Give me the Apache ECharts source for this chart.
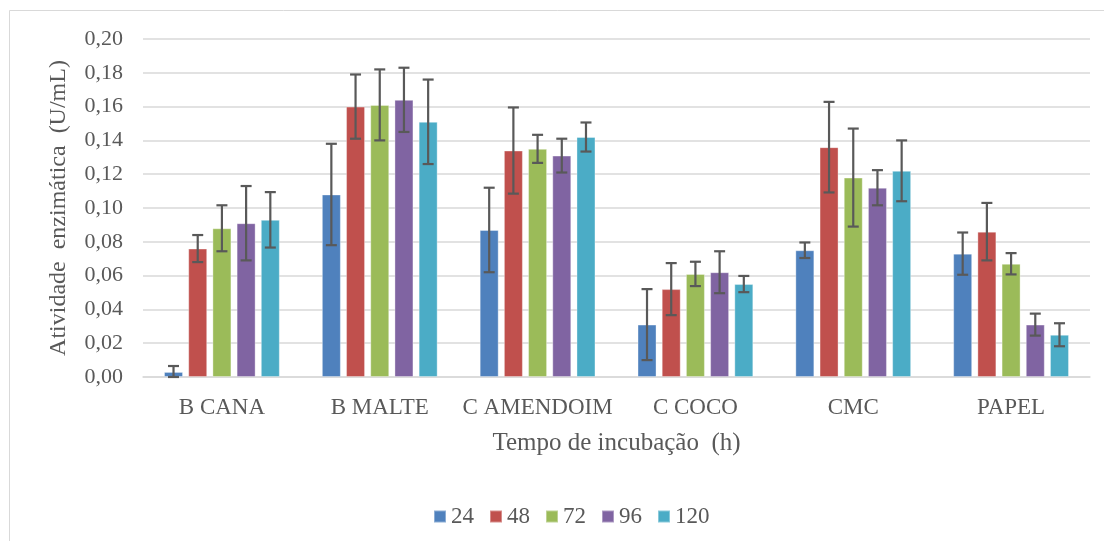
<!DOCTYPE html>
<html><head><meta charset="utf-8">
<script src="https://cdn.jsdelivr.net/npm/echarts@6/dist/echarts.min.js"></script>
<style>html,body{margin:0;padding:0;background:#fff}#c{width:1104px;height:541px}</style>
</head><body><div id="c"></div>
<script>
const categories = ['B CANA','B MALTE','C AMENDOIM','C COCO','CMC','PAPEL'];
const seriesNames = ['24','48','72','96','120'];
const v24  = [0.003, 0.108, 0.087, 0.031, 0.075, 0.073];
const v48  = [0.076, 0.160, 0.134, 0.052, 0.136, 0.086];
const v72  = [0.088, 0.161, 0.135, 0.061, 0.118, 0.067];
const v96  = [0.091, 0.164, 0.131, 0.062, 0.112, 0.031];
const v120 = [0.093, 0.151, 0.142, 0.055, 0.122, 0.025];
const e24  = [0.0035, 0.030, 0.025, 0.021, 0.0046, 0.0125];
const e48  = [0.008, 0.019, 0.0255, 0.0154, 0.0268, 0.017];
const e72  = [0.0136, 0.021, 0.0083, 0.0072, 0.029, 0.0063];
const e96  = [0.022, 0.019, 0.010, 0.0124, 0.0104, 0.0065];
const e120 = [0.0164, 0.025, 0.0086, 0.0048, 0.018, 0.0068];
const yTicks = ['0,00','0,02','0,04','0,06','0,08','0,10','0,12','0,14','0,16','0,18','0,20'];
const colors = ['#4F81BD','#C0504D','#9BBB59','#8064A2','#4BACC6'];
const values = [v24, v48, v72, v96, v120];
const errors = [e24, e48, e72, e96, e120];

const BAR_W = 19, GAP = 5.2;
const font = '"Liberation Serif","Times New Roman",serif';
const txt = '#595959';

const series = [];
values.forEach((vals, i) => {
  series.push({
    name: seriesNames[i], type: 'bar', data: vals, barWidth: BAR_W, barGap: (GAP / BAR_W * 100) + '%',
    itemStyle: { color: colors[i], borderColor: 'rgba(255,255,255,0.35)', borderWidth: 1 }, z: 2
  });
});
values.forEach((vals, i) => {
  const data = vals.map((v, k) => [k, v, errors[i][k]]);
  series.push({
    type: 'custom', name: 'err' + i, data: data, z: 5, silent: true,
    renderItem: function (params, api) {
      const k = api.value(0), v = api.value(1), e = api.value(2);
      const off = (i - 2) * (BAR_W + GAP);
      const lo = Math.max(0, v - e);
      const pHi = api.coord([k, v + e]);
      const pLo = api.coord([k, lo]);
      const x = pHi[0] + off;
      const cap = 5.5;
      const st = { stroke: '#595959', lineWidth: 2.2 };
      return { type: 'group', children: [
        { type: 'line', shape: { x1: x, y1: pHi[1], x2: x, y2: pLo[1] }, style: st },
        { type: 'line', shape: { x1: x - cap, y1: pHi[1], x2: x + cap, y2: pHi[1] }, style: st },
        { type: 'line', shape: { x1: x - cap, y1: pLo[1], x2: x + cap, y2: pLo[1] }, style: st }
      ]};
    }
  });
});

const chart = echarts.init(document.getElementById('c'));
chart.setOption({
  animation: false,
  backgroundColor: '#fff',
  graphic: [{ type: 'rect', shape: { x: 9.5, y: 10.5, width: 1200, height: 700 }, style: { fill: 'none', stroke: '#d9d9d9', lineWidth: 1 }, silent: true, z: -1 }],
  grid: { left: 143, right: 14, top: 39, bottom: 164 },
  legend: {
    data: seriesNames, left: 428, top: 500, itemWidth: 12, itemHeight: 12, itemGap: 15,
    icon: 'rect', textStyle: { fontFamily: font, fontSize: 23, color: txt }
  },
  xAxis: {
    type: 'category', data: categories,
    axisLine: { lineStyle: { color: '#d9d9d9', width: 1.5 } }, axisTick: { show: false },
    axisLabel: { fontFamily: font, fontSize: 23, color: txt, margin: 19, interval: 0 },
    name: 'Tempo de incubação  (h)', nameLocation: 'middle', nameGap: 54,
    nameTextStyle: { fontFamily: font, fontSize: 25, color: txt }
  },
  yAxis: {
    type: 'value', min: 0, max: 0.2, interval: 0.02,
    axisLine: { show: false }, axisTick: { show: false },
    splitLine: { lineStyle: { color: '#d9d9d9', width: 1.5 } },
    axisLabel: { fontFamily: font, fontSize: 22, color: txt, margin: 20,
      formatter: function (v) { return yTicks[Math.round(v / 0.02)]; } },
    name: 'Atividade  enzimática  (U/mL)', nameLocation: 'middle', nameGap: 72,
    nameTextStyle: { fontFamily: font, fontSize: 24, color: txt }
  },
  series: series
});
</script></body></html>
